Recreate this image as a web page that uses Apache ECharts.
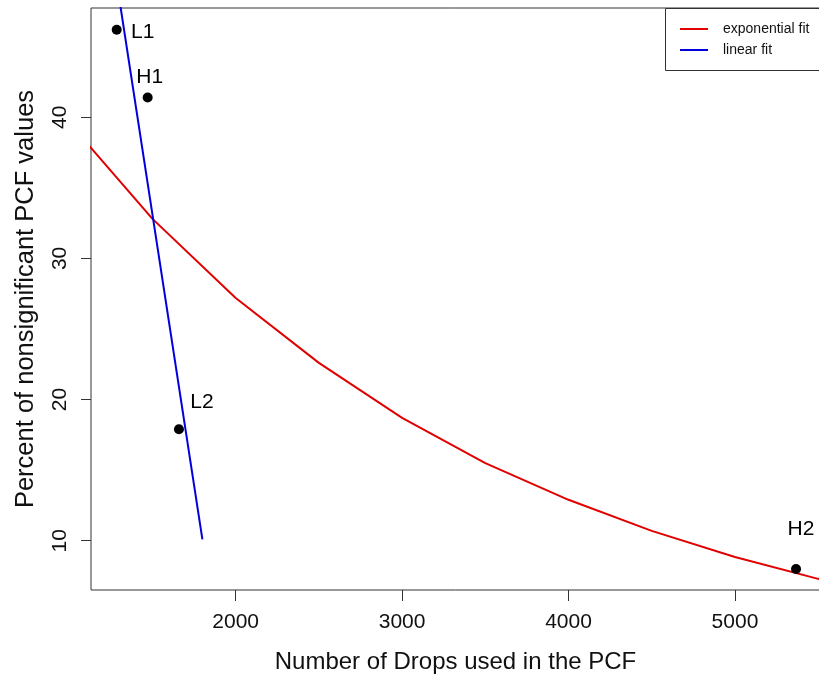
<!DOCTYPE html>
<html>
<head>
<meta charset="utf-8">
<title>Percent of nonsignificant PCF values vs. number of drops</title>
<script src="https://cdn.jsdelivr.net/npm/echarts@6/dist/echarts.min.js"></script>
<style>
  html, body { margin: 0; padding: 0; background: #fff; }
  #chart { width: 819px; height: 677px; }
</style>
</head>
<body>
<div id="chart"></div>
<script>
// Observed samples
var sampleNames = ['L1', 'H1', 'L2', 'H2'];
var sampleDrops = [1285, 1471, 1659, 5367];
var samplePercent = [46.2, 41.4, 17.9, 8.0];

// Exponential fit, sampled along the drop count
var expDrops = [1000, 1500, 2000, 2500, 3000, 3500, 4000, 4500, 5000, 5500, 6000];
var expPercent = [39.6, 32.8, 27.2, 22.6, 18.7, 15.5, 12.9, 10.7, 8.85, 7.3, 6.1];

// Linear fit end points
var linDrops = [1200, 1800];
var linPercent = [56.1, 10.1];

// Axis ticks
var xTicks = [2000, 3000, 4000, 5000];
var yTicks = [10, 20, 30, 40];

// Label offsets for each sample name (dx, dy from the point)
var labelOffsets = [[26, 2], [2, -20], [23, -27], [5, -40]];

var FONT = 'Liberation Sans, Arial, sans-serif';

function pairs(xs, ys) {
  return xs.map(function (x, i) { return [x, ys[i]]; });
}

var pointData = sampleNames.map(function (n, i) {
  return {
    name: n,
    value: [sampleDrops[i], samplePercent[i]],
    label: { offset: labelOffsets[i] }
  };
});

var chart = echarts.init(document.getElementById('chart'), null, { renderer: 'canvas' });

chart.setOption({
  animation: false,
  backgroundColor: '#ffffff',
  grid: {
    left: 91, top: 8, right: -1, bottom: 87,
    outerBoundsMode: 'none',
    containLabel: false,
    show: true, borderColor: '#333', borderWidth: 1, backgroundColor: 'transparent'
  },
  xAxis: {
    type: 'value',
    min: 1130.6, max: 5511,
    axisLine: { show: false },
    splitLine: { show: false },
    axisTick: { show: true, customValues: xTicks, length: 11, lineStyle: { color: '#333' } },
    axisLabel: {
      customValues: xTicks, fontSize: 21, color: '#111', fontFamily: FONT, margin: 22,
      formatter: function (v) { return String(v); }
    },
    name: 'Number of Drops used in the PCF',
    nameLocation: 'middle',
    nameGap: 60,
    nameTextStyle: { fontSize: 24, color: '#111', fontFamily: FONT }
  },
  yAxis: {
    type: 'value',
    min: 6.51, max: 47.74,
    axisLine: { show: false },
    splitLine: { show: false },
    axisTick: { show: true, customValues: yTicks, length: 10, lineStyle: { color: '#333' } },
    axisLabel: {
      customValues: yTicks, rotate: 90, fontSize: 21, color: '#111', fontFamily: FONT, margin: 20,
      formatter: function (v) { return String(v); }
    },
    name: 'Percent of nonsignificant PCF values',
    nameLocation: 'middle',
    nameGap: 52,
    nameTextStyle: { fontSize: 25.5, color: '#111', fontFamily: FONT }
  },
  legend: {
    orient: 'vertical',
    left: 680, top: 21,
    padding: 0,
    itemGap: 5,
    itemWidth: 28, itemHeight: 2,
    icon: 'rect',
    z: 10,
    data: ['exponential fit', 'linear fit'],
    textStyle: { fontSize: 14, color: '#111', fontFamily: FONT, lineHeight: 16, padding: [0, 0, 0, 10] }
  },
  graphic: [{
    type: 'rect',
    z: 1,
    shape: { x: 665.5, y: 8.5, width: 200, height: 62 },
    style: { fill: '#fff', stroke: '#333', lineWidth: 1 }
  }],
  series: [
    {
      name: 'exponential fit',
      type: 'line',
      data: pairs(expDrops, expPercent),
      symbol: 'none',
      lineStyle: { color: '#e00000', width: 2 },
      itemStyle: { color: '#e00000' },
      z: 2
    },
    {
      name: 'linear fit',
      type: 'line',
      data: pairs(linDrops, linPercent),
      symbol: 'none',
      lineStyle: { color: '#0000dd', width: 2 },
      itemStyle: { color: '#0000dd' },
      z: 3
    },
    {
      name: 'samples',
      type: 'scatter',
      data: pointData,
      symbol: 'circle',
      symbolSize: 10,
      itemStyle: { color: '#000', opacity: 1 },
      label: {
        show: true,
        position: 'inside',
        formatter: '{b}',
        fontSize: 21,
        color: '#000',
        fontFamily: FONT
      },
      z: 4
    }
  ]
});
</script>
</body>
</html>
